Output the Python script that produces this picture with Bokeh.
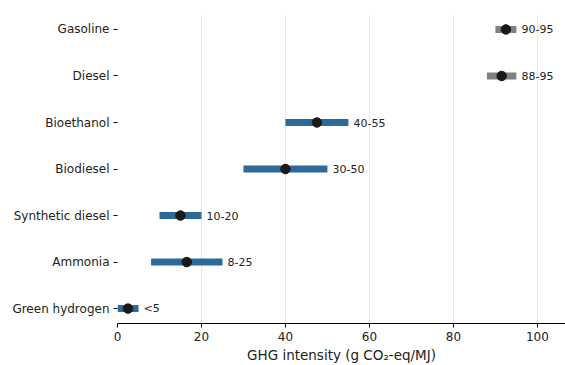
from bokeh.plotting import figure
from bokeh.models import ColumnDataSource, FixedTicker, Range1d
from bokeh.core.properties import value
from bokeh.embed import file_html
from bokeh.resources import INLINE

fuels = ["Green hydrogen", "Ammonia", "Synthetic diesel", "Biodiesel", "Bioethanol", "Diesel", "Gasoline"]
low = [0, 8, 10, 30, 40, 88, 90]
high = [5, 25, 20, 50, 55, 95, 95]
mid = [2.5, 16.5, 15, 40, 47.5, 91.5, 92.5]
labels = ["<5", "8-25", "10-20", "30-50", "40-55", "88-95", "90-95"]
colors = ["#2b6a9a"] * 5 + ["#808080"] * 2
xticks = [0, 20, 40, 60, 80, 100]

ypos = list(range(len(fuels)))
src = ColumnDataSource(dict(y=ypos, low=low, high=high, mid=mid, lab=labels, color=colors,
                            labx=[h + 1.2 for h in high]))

p = figure(width=565, height=365, output_backend="svg", toolbar_location=None,
           x_range=Range1d(0, 106.7), y_range=Range1d(-0.32, 6.3),
           min_border_left=117, min_border_right=0, min_border_top=15, min_border_bottom=0)
p.outline_line_color = None
p.background_fill_color = "white"

p.segment(x0="low", x1="high", y0="y", y1="y", source=src, line_color="color", line_width=7)
p.scatter(x="mid", y="y", source=src, size=9.5, color="#1a1a1a")
p.text(x="labx", y="y", text="lab", source=src, text_font_size="11px", text_baseline="middle",
       text_color="#222222", text_font=value("DejaVu Sans"))

p.xaxis.ticker = FixedTicker(ticks=xticks)
p.xaxis.axis_label = "GHG intensity (g CO₂-eq/MJ)"
p.xaxis.axis_label_text_font = "DejaVu Sans"
p.xaxis.axis_label_text_font_style = "normal"
p.xaxis.axis_label_text_font_size = "13.5px"
p.xaxis.axis_label_text_color = "#222222"
p.xaxis.axis_label_standoff = 3
p.xaxis.major_label_standoff = 4
p.xaxis.major_label_text_font = "DejaVu Sans"
p.xaxis.major_label_text_font_size = "12px"
p.xaxis.major_label_text_color = "#222222"
p.xaxis.axis_line_color = "black"
p.xaxis.axis_line_width = 1.2
p.xaxis.major_tick_in = 0
p.xaxis.major_tick_out = 4
p.xaxis.minor_tick_line_color = None

p.yaxis.ticker = FixedTicker(ticks=ypos)
p.yaxis.major_label_overrides = {i: f for i, f in enumerate(fuels)}
p.yaxis.major_label_text_font = "DejaVu Sans"
p.yaxis.major_label_text_font_size = "12px"
p.yaxis.major_label_text_color = "#222222"
p.yaxis.axis_line_color = None
p.yaxis.major_tick_in = 0
p.yaxis.major_tick_out = 4
p.yaxis.major_label_standoff = 4
p.yaxis.minor_tick_line_color = None

p.xgrid.grid_line_color = "#e8e8e8"
p.xgrid.grid_line_width = 1
p.ygrid.grid_line_color = None

open("out.html", "w").write(file_html(p, INLINE))
